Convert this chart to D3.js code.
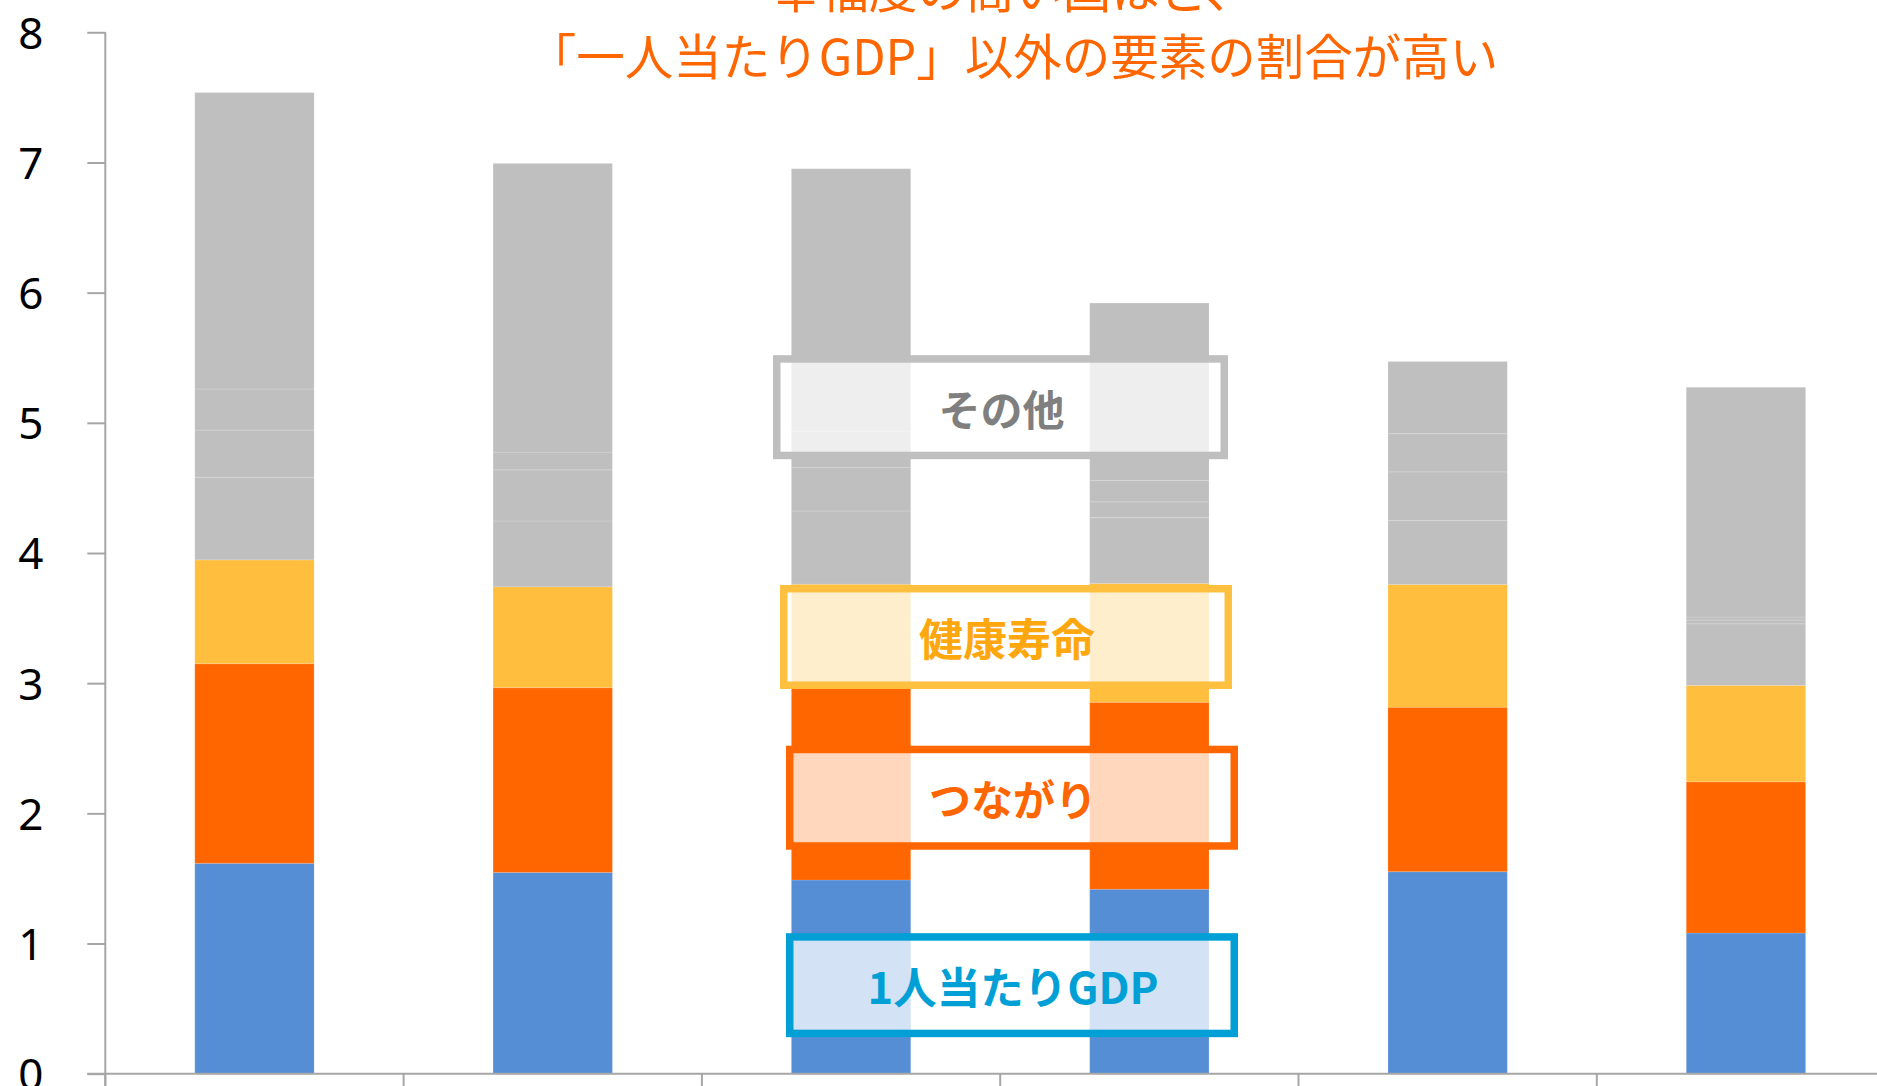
<!DOCTYPE html>
<html lang="ja">
<head>
<meta charset="utf-8">
<script src="https://cdn.jsdelivr.net/npm/d3@7"></script>
<style>
  html, body { margin: 0; padding: 0; background: #ffffff; overflow: hidden; }
  svg { display: block; }
</style>
</head>
<body>
<svg id="chart" width="1877" height="1086"></svg>
<script>
// World Happiness Report score, broken down by factor
const countries = ["ノルウェー", "アメリカ", "ドイツ", "日本", "香港", "中国"];

const gdpPerCapita   = [1.616, 1.546, 1.488, 1.417, 1.552, 1.081];
const socialSupport  = [1.534, 1.420, 1.473, 1.436, 1.263, 1.161];
const healthyLife    = [0.797, 0.774, 0.799, 0.913, 0.943, 0.741];
const freedom        = [0.635, 0.506, 0.563, 0.506, 0.491, 0.473];
const generosity     = [0.362, 0.393, 0.336, 0.121, 0.374, 0.029];
const corruption     = [0.316, 0.136, 0.277, 0.164, 0.294, 0.023];
const residual       = [2.277, 2.218, 2.016, 1.363, 0.554, 1.765];

const seriesKeys  = ["gdp", "social", "health", "freedom", "generosity", "corruption", "residual"];
const seriesData  = [gdpPerCapita, socialSupport, healthyLife, freedom, generosity, corruption, residual];

const yTicks = [0, 1, 2, 3, 4, 5, 6, 7, 8];

const titleLines = ["幸福度の高い国ほど、", "「一人当たりGDP」以外の要素の割合が高い"];

// Callout labels: text, vertical centre (score units)
const calloutText  = ["その他", "健康寿命", "つながり", "1人当たりGDP"];
const calloutLevel = [5.12, 3.355, 2.12, 0.68];

// ---- build rows for the stack ----
const rows = countries.map((c, i) => {
  const r = { country: c };
  seriesKeys.forEach((k, j) => { r[k] = seriesData[j][i]; });
  return r;
});

const stack = d3.stack().keys(seriesKeys);
const layers = stack(rows);

const colors = {
  gdp: "#558ed5",
  social: "#ff6600",
  health: "#ffbe3d",
  freedom: "#bfbfbf",
  generosity: "#bfbfbf",
  corruption: "#bfbfbf",
  residual: "#bfbfbf"
};

// ---- layout ----
const svg = d3.select("#chart");
const left = 105.3;
const step = 298.3;
const y0px = 1073.7, y8px = 32.3;

const x = d3.scaleBand()
  .domain(countries)
  .range([left, left + step * countries.length])
  .paddingInner(0.6)
  .paddingOuter(0.3);

const y = d3.scaleLinear().domain([0, 8]).range([y0px, y8px]);

// ---- bars ----
const gBars = svg.append("g");
gBars.selectAll("g.layer")
  .data(layers)
  .join("g")
  .attr("class", "layer")
  .attr("fill", d => colors[d.key])
  .selectAll("rect")
  .data(d => d)
  .join("rect")
  .attr("x", d => x(d.data.country))
  .attr("width", x.bandwidth())
  .attr("y", d => y(d[1]))
  .attr("height", d => y(d[0]) - y(d[1]))
  .attr("stroke", "rgba(255,255,255,0.12)")
  .attr("stroke-width", 1.2);

// ---- axes ----
const axisColor = "#a6a6a6";
const yAxis = d3.axisLeft(y).tickValues(yTicks).tickSize(18).tickPadding(44).tickFormat(d3.format("d"));
const gy = svg.append("g").attr("transform", `translate(${left},0)`).call(yAxis);
gy.select(".domain").attr("stroke", axisColor).attr("stroke-width", 2)
  .attr("d", `M0,${y8px}V${y0px + 20}`);
gy.selectAll(".tick line").attr("stroke", axisColor).attr("stroke-width", 2);
gy.selectAll(".tick text")
  .attr("fill", "#000")
  .attr("font-family", "'Noto Sans', 'DejaVu Sans', sans-serif")
  .attr("font-size", 44)
  .attr("dy", "0.36em");

// category axis along the baseline, ticks between bands
const gx = svg.append("g");
gx.append("line")
  .attr("x1", left - 18).attr("x2", 1877)
  .attr("y1", y0px).attr("y2", y0px)
  .attr("stroke", axisColor).attr("stroke-width", 2);
gx.selectAll("line.sep")
  .data(d3.range(countries.length + 1))
  .join("line")
  .attr("class", "sep")
  .attr("x1", i => left + i * x.step())
  .attr("x2", i => left + i * x.step())
  .attr("y1", y0px).attr("y2", y0px + 18)
  .attr("stroke", axisColor).attr("stroke-width", 2);

// ---- title ----
const titleX = 1013;
svg.selectAll("text.title")
  .data(titleLines)
  .join("text")
  .attr("class", "title")
  .attr("x", titleX)
  .attr("y", (d, i) => -13 + i * 67)
  .attr("text-anchor", "middle")
  .attr("dominant-baseline", "central")
  .attr("font-family", "'Noto Sans CJK JP', sans-serif")
  .attr("font-size", 48.5)
  .attr("fill", "#ff6600")
  .text(d => d);

// ---- callouts ----
const calloutStroke = ["#bfbfbf", "#ffbf3f", "#ff6600", "#00a0d6"];
const calloutInk    = ["#7f7f7f", "#ffa70f", "#ff6600", "#00a0d6"];
const calloutSize   = [42, 44, 42, 43.5];
const calloutX      = [773, 780, 786, 786];
const calloutW      = [455, 452, 452, 452];
const boxH = 104, sw = 7.5;

const gCall = svg.append("g");
calloutText.forEach((t, i) => {
  const cy = y(calloutLevel[i]);
  gCall.append("rect")
    .attr("x", calloutX[i] + sw / 2)
    .attr("y", cy - boxH / 2 + sw / 2)
    .attr("width", calloutW[i] - sw)
    .attr("height", boxH - sw)
    .attr("fill", "rgba(255,255,255,0.74)")
    .attr("stroke", calloutStroke[i])
    .attr("stroke-width", sw);
  gCall.append("text")
    .attr("x", calloutX[i] + calloutW[i] / 2 + 1)
    .attr("y", cy)
    .attr("text-anchor", "middle")
    .attr("dominant-baseline", "central")
    .attr("font-family", "'Noto Sans CJK JP', sans-serif")
    .attr("font-weight", 700)
    .attr("font-size", calloutSize[i])
    .attr("fill", calloutInk[i])
    .text(t);
});
</script>
</body>
</html>
